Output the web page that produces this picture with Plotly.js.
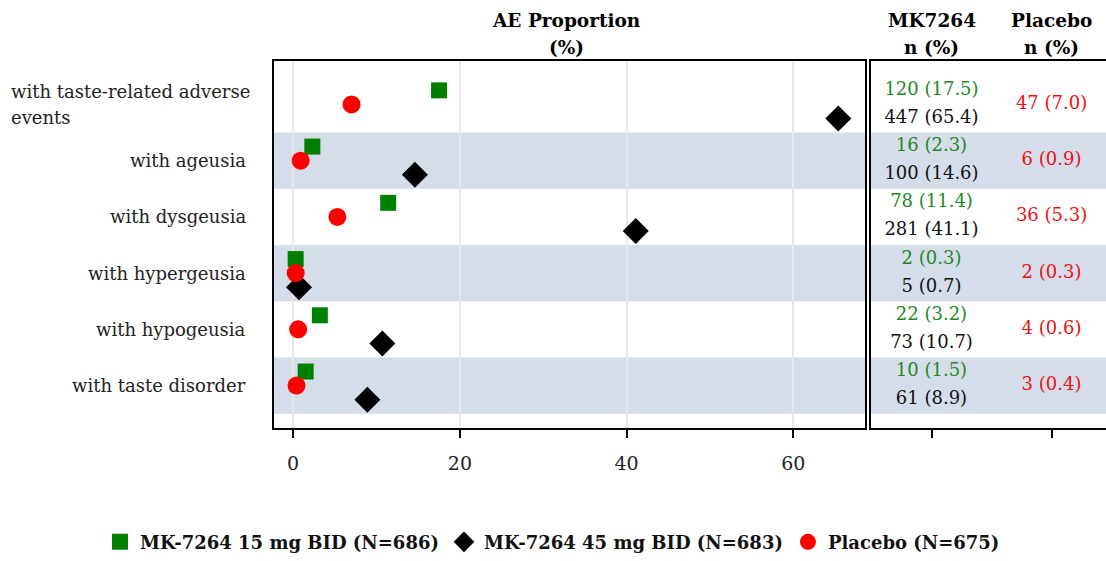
<!DOCTYPE html>
<html>
<head>
<meta charset="utf-8">
<script src="https://cdn.plot.ly/plotly-3.0.1.min.js"></script>
<style>
html,body{margin:0;padding:0;overflow:hidden;background:#fff;}
#chart{width:1116px;height:561px;}
</style>
</head>
<body>
<div id="chart"></div>
<script>
// ---- data ----
const categories = ['with taste-related adverse<br>events', 'with ageusia', 'with dysgeusia', 'with hypergeusia', 'with hypogeusia', 'with taste disorder'];
const pct15 = [17.5, 2.3, 11.4, 0.3, 3.2, 1.5];
const pct45 = [65.4, 14.6, 41.1, 0.7, 10.7, 8.9];
const pctPbo = [7.0, 0.9, 5.3, 0.3, 0.6, 0.4];
const n15 = [120, 16, 78, 2, 22, 10];
const n45 = [447, 100, 281, 5, 73, 61];
const nPbo = [47, 6, 36, 2, 4, 3];
const seriesNames = ['MK-7264 15 mg BID (N=686)', 'MK-7264 45 mg BID (N=683)', 'Placebo (N=675)'];
const colHeaders = [['MK7264', 'n (%)'], ['Placebo', 'n (%)']];
const xTicks = [0, 20, 40, 60];

// ---- layout helpers ----
const W = 1116, H = 561, L = 274, T = 61, B = 127;
const plotW = W - L, plotH = H - T - B;
const px2x = p => (p - L) / plotW;
const py2y = p => (H - B - p) / plotH;
const FONT = 'DejaVu Serif';
const GREEN = '#008000', TGREEN = '#1f8a1f', RED = '#ff0000', TRED = '#ee1111', BLACK = '#000000';
const OFF = 0.25;
const idx = categories.map((_, i) => i);
const fmt = (n, p) => n + ' (' + p.toFixed(1) + ')';

const traces = [
  {x: pct15, y: idx.map(i => i - OFF), type: 'scatter', mode: 'markers', name: seriesNames[0],
   marker: {symbol: 'square', size: 16, color: GREEN}, xaxis: 'x', yaxis: 'y'},
  {x: pct45, y: idx.map(i => i + OFF), type: 'scatter', mode: 'markers', name: seriesNames[1],
   marker: {symbol: 'diamond', size: 20, color: BLACK}, xaxis: 'x', yaxis: 'y'},
  {x: pctPbo, y: idx, type: 'scatter', mode: 'markers', name: seriesNames[2],
   marker: {symbol: 'circle', size: 18, color: RED}, xaxis: 'x', yaxis: 'y'},
  // right panel texts
  {x: idx.map(() => 0), y: idx.map(i => i - OFF), type: 'scatter', mode: 'text', showlegend: false,
   text: idx.map(i => fmt(n15[i], pct15[i])), textfont: {family: FONT, size: 18, color: TGREEN},
   xaxis: 'x2', yaxis: 'y2', hoverinfo: 'skip'},
  {x: idx.map(() => 0), y: idx.map(i => i + OFF), type: 'scatter', mode: 'text', showlegend: false,
   text: idx.map(i => fmt(n45[i], pct45[i])), textfont: {family: FONT, size: 18, color: '#111111'},
   xaxis: 'x2', yaxis: 'y2', hoverinfo: 'skip'},
  {x: idx.map(() => 1), y: idx, type: 'scatter', mode: 'text', showlegend: false,
   text: idx.map(i => fmt(nPbo[i], pctPbo[i])), textfont: {family: FONT, size: 18, color: TRED},
   xaxis: 'x2', yaxis: 'y2', hoverinfo: 'skip'}
];

// bands
const shapes = [];
idx.filter(i => i % 2 === 1).forEach(i => {
  ['x', 'x2'].forEach((ax, k) => {
    shapes.push({type: 'rect', layer: 'below', xref: ax + ' domain', x0: 0, x1: 1,
      yref: k === 0 ? 'y' : 'y2', y0: i - 0.5, y1: i + 0.5, fillcolor: '#d5dcea', line: {width: 0}});
  });
});

// annotations
const annotations = [];
categories.forEach((c, i) => {
  const lines = c.split('<br>');
  if (lines.length === 1) {
    annotations.push({text: c, xref: 'paper', x: px2x(248), xanchor: 'right', yref: 'y', y: i,
      yanchor: 'middle', showarrow: false, font: {family: FONT, size: 18, color: '#222'}});
  } else {
    lines.forEach((ln, k) => {
      annotations.push({text: ln, xref: 'paper', x: px2x(9), xanchor: 'left', yref: 'y',
        y: i + (k === 0 ? -0.237 : 0.237), yanchor: 'middle', showarrow: false,
        font: {family: FONT, size: 18, color: '#222'}});
    });
  }
});
const hdrFont = {family: FONT, size: 18.5, color: '#000'};
annotations.push({text: '<b>AE Proportion</b>', xref: 'paper', x: px2x(566), yref: 'paper', y: py2y(20),
  xanchor: 'center', yanchor: 'middle', showarrow: false, font: hdrFont});
annotations.push({text: '<b>(%)</b>', xref: 'paper', x: px2x(566), yref: 'paper', y: py2y(47),
  xanchor: 'center', yanchor: 'middle', showarrow: false, font: hdrFont});
colHeaders.forEach((h, j) => {
  h.forEach((ln, k) => {
    annotations.push({text: '<b>' + ln + '</b>', xref: 'x2', x: j, yref: 'paper', y: py2y(k === 0 ? 20 : 47),
      xanchor: 'center', yanchor: 'middle', showarrow: false, font: hdrFont});
  });
});

const yRange = [5.754, -0.772];
const layout = {
  width: W, height: H,
  margin: {l: L, r: 0, t: T, b: B, pad: 0},
  paper_bgcolor: '#fff', plot_bgcolor: 'rgba(0,0,0,0)',
  font: {family: FONT, size: 18, color: '#222'},
  showlegend: true,
  legend: {orientation: 'h', x: px2x(100), xanchor: 'left', y: py2y(550), yanchor: 'middle',
    font: {family: FONT, size: 18, color: '#111', weight: 'bold'}, itemsizing: 'trace',
    tracegroupgap: 0, bgcolor: 'rgba(0,0,0,0)'},
  xaxis: {domain: [0, px2x(865)], range: [-2.3, 68.6], anchor: 'y',
    tickvals: xTicks, ticktext: xTicks.map(String), ticks: 'outside', ticklen: 8, tickwidth: 2, tickcolor: '#000',
    ticklabelstandoff: 9,
    showgrid: true, gridcolor: '#e8e8e8', gridwidth: 2, zeroline: false,
    showline: true, linecolor: '#000', linewidth: 2, mirror: true,
    tickfont: {family: FONT, size: 19, color: '#222'}, fixedrange: true},
  yaxis: {domain: [0, 1], range: yRange, anchor: 'x', showticklabels: false, ticks: '',
    showgrid: false, zeroline: false, showline: true, linecolor: '#000', linewidth: 2, mirror: true, fixedrange: true},
  xaxis2: {domain: [px2x(871), 1], range: [-0.504, 1.537], anchor: 'y2', tickvals: [0, 1],
    showticklabels: false, ticks: 'outside', ticklen: 8, tickwidth: 2, tickcolor: '#000',
    showgrid: false, zeroline: false, showline: true, linecolor: '#000', linewidth: 2, mirror: true, fixedrange: true},
  yaxis2: {domain: [0, 1], range: yRange, anchor: 'x2', showticklabels: false, ticks: '',
    showgrid: false, zeroline: false, showline: true, linecolor: '#000', linewidth: 2, mirror: true, fixedrange: true},
  shapes: shapes,
  annotations: annotations
};

Plotly.newPlot('chart', traces, layout, {displayModeBar: false, staticPlot: true});
</script>
</body>
</html>
